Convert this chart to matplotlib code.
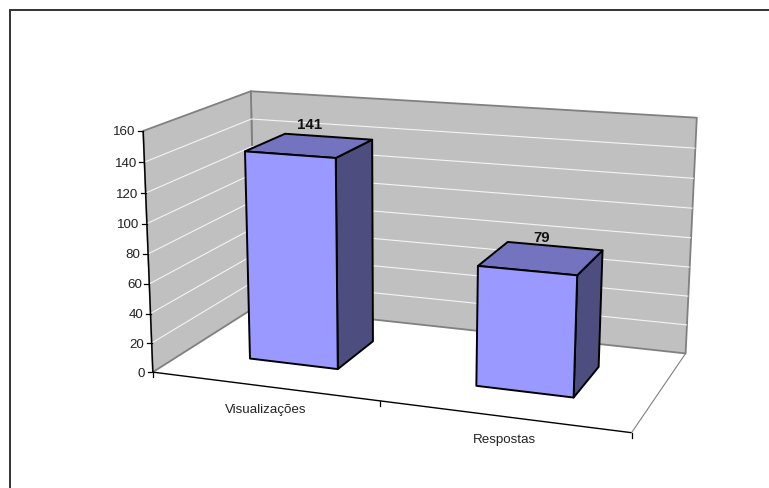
import numpy as np
import matplotlib
matplotlib.use('Agg')
import matplotlib.pyplot as plt
from matplotlib.patches import Polygon

plt.rcParams['font.family'] = ['Liberation Sans', 'DejaVu Sans']

categories = ['Visualizações', 'Respostas']
values = [141, 79]
y_ticks = [0, 20, 40, 60, 80, 100, 120, 140, 160]
y_max = 160

# chart box corners: (along, depth, height) in box units -> pixel position, weight
box_pts = [
    ((0, 0, 0), (153, 373), 4),
    ((1, 0, 0), (632, 435), 1),
    ((0, 1, 0), (253, 310), 1),
    ((1, 1, 0), (686, 353), 1),
    ((0, 0, 1), (143, 132), 4),
    ((0, 1, 1), (254, 91), 1),
    ((1, 1, 1), (696, 119), 1),
]

bar_half = 0.1
bar_front = 0.30
bar_back = 0.70

WALL = '#c0c0c0'
WALL_EDGE = '#808080'
FACE = '#9999ff'
TOP = '#7373bf'
SIDE = '#4d4d80'
TEXT = '#222222'


def fit_camera(pts):
    # solve the 3x4 projective matrix from the known corners
    A, b = [], []
    for (X, Y, Z), (x, y), w in pts:
        A.append([w * k for k in [X, Y, Z, 1, 0, 0, 0, 0, -x * X, -x * Y, -x * Z]])
        A.append([w * k for k in [0, 0, 0, 0, X, Y, Z, 1, -y * X, -y * Y, -y * Z]])
        b += [w * x, w * y]
    m = np.linalg.lstsq(np.array(A, float), np.array(b, float), rcond=None)[0]
    return np.append(m, 1).reshape(3, 4)


cam = fit_camera(box_pts)


def project(u, v, val):
    p = cam @ np.array([u, v, val / y_max, 1.0])
    return p[0] / p[2], p[1] / p[2]


def face(ax, corners, color, edge, lw, z):
    ax.add_patch(Polygon([project(*c) for c in corners], closed=True, facecolor=color,
                         edgecolor=edge, linewidth=lw, joinstyle='round', zorder=z))


def line(ax, a, b, color, lw, z):
    pa, pb = project(*a), project(*b)
    ax.plot([pa[0], pb[0]], [pa[1], pb[1]], color=color, lw=lw, zorder=z,
            solid_capstyle='butt')


fig = plt.figure(figsize=(7.69, 4.89), dpi=100)
ax = fig.add_axes([0, 0, 1, 1])
ax.set_xlim(0, 769)
ax.set_ylim(489, 0)
ax.axis('off')

# outer frame, open on the right and at the bottom
ax.plot([10, 10, 769], [489, 11, 11], color='#333333', lw=1.4, solid_joinstyle='miter')

# walls
face(ax, [(0, 1, 0), (1, 1, 0), (1, 1, y_max), (0, 1, y_max)], WALL, WALL_EDGE, 1.3, 1)
face(ax, [(0, 0, 0), (0, 1, 0), (0, 1, y_max), (0, 0, y_max)], WALL, WALL_EDGE, 1.3, 1)

# gridlines on both walls
for t in y_ticks[1:-1]:
    line(ax, (0, 0, t), (0, 1, t), '#f4f4f4', 0.8, 2)
    line(ax, (0, 1, t), (1, 1, t), '#f4f4f4', 0.8, 2)

# floor edge on the right
line(ax, (1, 0, 0), (1, 1, 0), WALL_EDGE, 0.8, 2)

# value axis with ticks and labels
line(ax, (0, 0, 0), (0, 0, y_max), 'black', 1.0, 3)
for t in y_ticks:
    x, y = project(0, 0, t)
    ax.plot([x - 5, x], [y, y], color='black', lw=0.9, zorder=3)
    ax.text(x - 7.5, y + 0.5, str(t), ha='right', va='center', fontsize=9.6, color=TEXT)

# category axis with ticks and labels
line(ax, (0, 0, 0), (1, 0, 0), 'black', 1.0, 3)
for u in [0, 0.5, 1]:
    x, y = project(u, 0, 0)
    ax.plot([x, x], [y, y + 5], color='black', lw=0.9, zorder=3)
for i, name in enumerate(categories):
    x, y = project((i + 0.5) / len(categories), 0, 0)
    ax.text(x + 2.5, y + 22.5, name, ha='center', va='center', fontsize=9.6, color=TEXT)

# bars
for i, val in enumerate(values):
    c = (i + 0.5) / len(values)
    u0, u1 = c - bar_half, c + bar_half
    v0, v1 = bar_front, bar_back
    face(ax, [(u1, v0, 0), (u1, v1, 0), (u1, v1, val), (u1, v0, val)], SIDE, 'black', 1.4, 5)
    face(ax, [(u0, v0, val), (u1, v0, val), (u1, v1, val), (u0, v1, val)], TOP, 'black', 1.4, 5)
    face(ax, [(u0, v0, 0), (u1, v0, 0), (u1, v0, val), (u0, v0, val)], FACE, 'black', 1.4, 6)
    x, y = project(c, (v0 + v1) / 2, val)
    ax.text(x, y - 21, str(val), ha='center', va='center', fontsize=10.8,
            fontweight='bold', color='#111111', zorder=7)

fig.savefig('out.png', dpi=100)
